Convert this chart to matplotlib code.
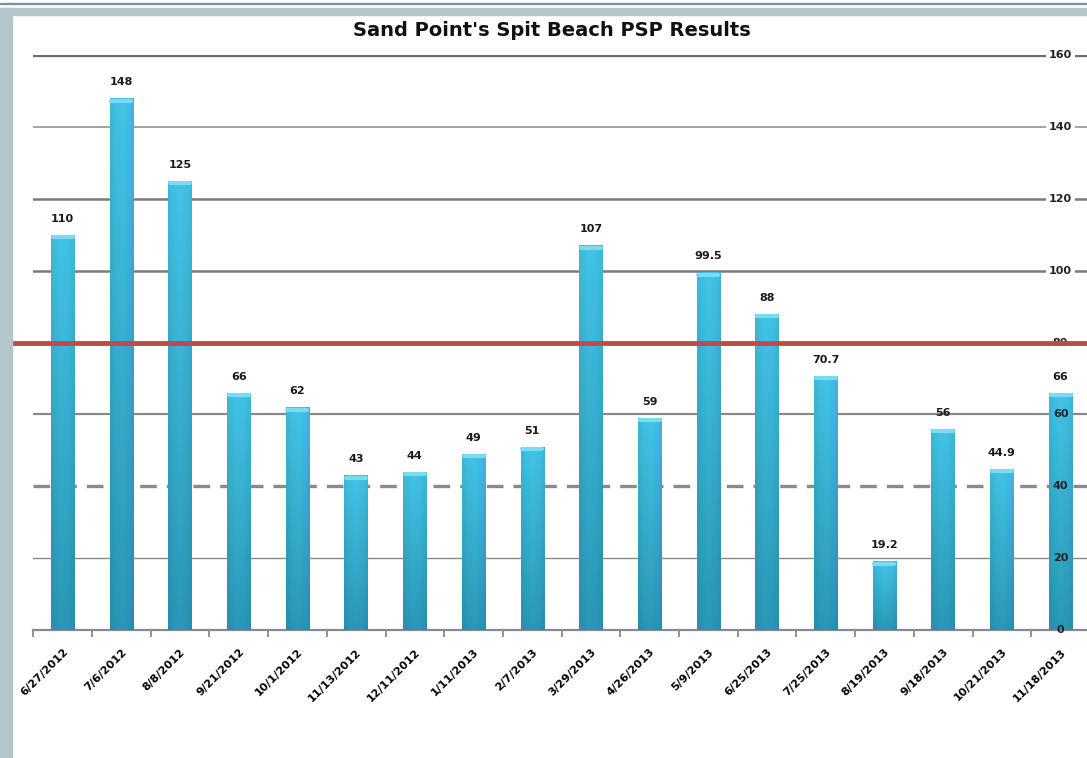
import matplotlib
matplotlib.use('Agg')
import matplotlib.pyplot as plt
import numpy as np
from matplotlib.patches import Rectangle

plt.rcParams['font.family'] = ['DejaVu Sans']

# data
dates = ['6/27/2012', '7/6/2012', '8/8/2012', '9/21/2012', '10/1/2012',
         '11/13/2012', '12/11/2012', '1/11/2013', '2/7/2013', '3/29/2013',
         '4/26/2013', '5/9/2013', '6/25/2013', '7/25/2013', '8/19/2013',
         '9/18/2013', '10/21/2013', '11/18/2013']
psp = [110, 148, 125, 66, 62, 43, 44, 49, 51, 107, 59, 99.5, 88, 70.7,
       19.2, 56, 44.9, 66]
value_labels = ['110', '148', '125', '66', '62', '43', '44', '49', '51', '107',
                '59', '99.5', '88', '70.7', '19.2', '56', '44.9', '66']
limit = 80
yticks = [0, 20, 40, 60, 80, 100, 120, 140, 160]

W, H = 1087, 758
fig = plt.figure(figsize=(W / 100, H / 100), dpi=100)

# outer frame (grey-blue border, left + top)
frame_col = '#b3c6ca'
fig.patches.append(Rectangle((0, 0), 12 / W, 1 - 8 / H, transform=fig.transFigure,
                             color=frame_col, zorder=0))
fig.patches.append(Rectangle((0, 1 - 15 / H), 1, 7 / H, transform=fig.transFigure,
                             color=frame_col, zorder=0))
fig.patches.append(Rectangle((0, 1 - 4 / H), 1, 1.5 / H, transform=fig.transFigure,
                             color='#7f9499', zorder=0))

left, right = 33.3, 1089.9
ax = fig.add_axes([left / W, 1 - 630 / H, (right - left) / W, 575 / H])
ax.set_facecolor('none')

x = np.arange(len(dates))

# gridlines
grid_style = {160: (2.4, '-', '#6e6e6e'), 140: (1.1, '-', '#8a8a8a'),
              120: (1.8, '-', '#7a7a7a'), 100: (1.8, '-', '#7a7a7a'),
              60: (1.6, '-', '#8a8a8a'), 40: (2.4, (0, (5, 3)), '#8a8a8a'),
              20: (1.0, '-', '#8a8a8a')}
for yv, (lw, ls, c) in grid_style.items():
    ax.axhline(yv, color=c, lw=lw, ls=ls, zorder=1)

# bars with a shaded gradient
bw = 0.40
bars = ax.bar(x, psp, width=bw, color='#36b3d6', zorder=3)
gx = np.linspace(0, 1, 64)
shade_h = 0.55 + 0.45 * np.sin(np.pi * (0.15 + 0.7 * gx))
gy = np.linspace(0, 1, 64)[:, None]
top_c = np.array([0x42, 0xc3, 0xe6]) / 255
bot_c = np.array([0x2b, 0x97, 0xb6]) / 255
base = bot_c[None, None, :] * (1 - gy[..., None]) + top_c[None, None, :] * gy[..., None]
img = np.clip(base * (0.72 + 0.28 * shade_h[None, :, None]), 0, 1)
for b in bars:
    x0, w, h = b.get_x(), b.get_width(), b.get_height()
    im = ax.imshow(img, extent=(x0, x0 + w, 0, h), origin='lower',
                   aspect='auto', zorder=3, interpolation='bilinear')
    im.set_clip_path(b)
    ax.plot([x0 + 0.03, x0 + w - 0.03], [h - 0.7, h - 0.7], color='#7adcf3',
            lw=3, solid_capstyle='round', zorder=4)
ax.set_xlim(-0.5, len(dates) - 0.5)
ax.set_ylim(0, 160)

# value labels
for xi, v, s in zip(x, psp, value_labels):
    ax.annotate(s, (xi, v), xytext=(0, 8), textcoords='offset points',
                ha='center', va='bottom', fontsize=8, fontweight='bold',
                color='#1a1a1a', zorder=6)

# limit line
ax.axhline(limit, xmin=-0.02, xmax=1, color='#bf4a48', lw=3.5, zorder=7,
           clip_on=False)

# y labels on the right, over the last bar
for yv in yticks:
    kw = {}
    if 60 < yv:
        kw['bbox'] = dict(boxstyle='square,pad=0.25', fc='white', ec='none')
    ax.text(len(dates) - 1, yv, str(yv), ha='center', va='center', fontsize=8,
            fontweight='bold', color='#222222', zorder=5 if yv != limit else 6, **kw)

for s in ['top', 'right', 'left']:
    ax.spines[s].set_visible(False)
ax.spines['bottom'].set_color('#8a8a8a')
ax.spines['bottom'].set_linewidth(1.6)
ax.set_yticks([])

ax.set_xticks(np.arange(len(dates) + 1) - 0.5)
ax.set_xticklabels([])
ax.tick_params(axis='x', length=5, width=1.3, color='#8a8a8a')
ax.set_xticks(x, minor=True)
ax.set_xticklabels(dates, minor=True, rotation=45, ha='right', va='top',
                   rotation_mode='anchor', fontsize=8, fontweight='bold')
ax.tick_params(axis='x', which='minor', length=0, pad=12)

fig.text(552 / W, 1 - 31 / H, "Sand Point's Spit Beach PSP Results",
         ha='center', va='center', fontsize=14, fontweight='bold', color='#111111')

fig.savefig('out.png', dpi=100)
